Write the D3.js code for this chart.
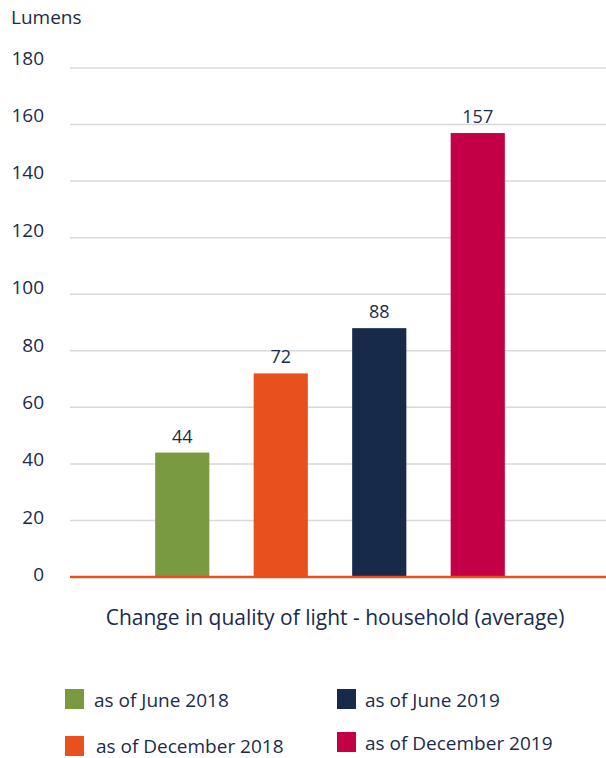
<!DOCTYPE html>
<html>
<head>
<meta charset="utf-8">
<script src="https://cdn.jsdelivr.net/npm/d3@7"></script>
<style>
  html, body { margin: 0; padding: 0; background: #ffffff; }
  svg { display: block; font-family: "Open Sans", "Noto Sans", sans-serif; }
</style>
</head>
<body>
<svg id="chart" width="606" height="758"></svg>
<script>
// Average household light output, in lumens, at each survey date
const categories = ["as of June 2018", "as of December 2018", "as of June 2019", "as of December 2019"];
const values = [44, 72, 88, 157];
const colors = ["#7a9a41", "#e8501e", "#172a4a", "#c30046"];
const yTicks = [0, 20, 40, 60, 80, 100, 120, 140, 160, 180];
const yTitle = "Lumens";
const xTitle = "Change in quality of light - household (average)";

const textColor = "#1b2b4b";
const svg = d3.select("#chart");

const plotLeft = 70, plotRight = 606, plotTop = 68, plotBottom = 577;

const y = d3.scaleLinear().domain([0, 180]).range([plotBottom, plotTop]);
const x = d3.scaleBand()
  .domain(categories)
  .range([133, 527])
  .paddingInner(0.45)
  .paddingOuter(0.225);

// Horizontal gridlines
svg.append("g")
  .selectAll("line")
  .data(yTicks.filter(d => d > 0))
  .join("line")
  .attr("x1", plotLeft).attr("x2", plotRight)
  .attr("y1", d => y(d)).attr("y2", d => y(d))
  .attr("stroke", "#d5d9dd")
  .attr("stroke-width", 1.5);

// Y tick labels
svg.append("g")
  .selectAll("text")
  .data(yTicks)
  .join("text")
  .attr("x", 44)
  .attr("y", d => y(d) - 2.5 - d * 0.042)
  .attr("dy", "0.35em")
  .attr("text-anchor", "end")
  .attr("font-size", 19)
  .attr("fill", textColor)
  .text(d => d);

// Axis unit
svg.append("text")
  .attr("x", 11).attr("y", 17)
  .attr("dy", "0.35em")
  .attr("font-size", 19)
  .attr("fill", textColor)
  .text(yTitle);

// Bars
svg.append("g")
  .selectAll("rect")
  .data(values)
  .join("rect")
  .attr("x", (d, i) => x(categories[i]))
  .attr("width", x.bandwidth())
  .attr("y", d => y(d))
  .attr("height", d => y(0) - y(d))
  .attr("fill", (d, i) => colors[i]);

// Value labels above bars
svg.append("g")
  .selectAll("text")
  .data(values)
  .join("text")
  .attr("x", (d, i) => x(categories[i]) + x.bandwidth() / 2)
  .attr("y", d => y(d) - 10)
  .attr("text-anchor", "middle")
  .attr("font-size", 18)
  .attr("fill", textColor)
  .text(d => d);

// Baseline
svg.append("line")
  .attr("x1", plotLeft).attr("x2", plotRight)
  .attr("y1", y(0)).attr("y2", y(0))
  .attr("stroke", "#e8501e")
  .attr("stroke-width", 2.5);

// X axis title
svg.append("text")
  .attr("x", 335).attr("y", 618)
  .attr("dy", "0.35em")
  .attr("text-anchor", "middle")
  .attr("font-size", 21)
  .attr("fill", textColor)
  .text(xTitle);

// Legend, two columns
const legendPos = [
  { sx: 65, sy: 689, tx: 94, ty: 700 },
  { sx: 65, sy: 736, tx: 96, ty: 746 },
  { sx: 337, sy: 689, tx: 365, ty: 700 },
  { sx: 337, sy: 732, tx: 365, ty: 743 }
];
const legend = svg.append("g")
  .selectAll("g")
  .data(categories)
  .join("g");
legend.append("rect")
  .attr("x", (d, i) => legendPos[i].sx)
  .attr("y", (d, i) => legendPos[i].sy)
  .attr("width", 19).attr("height", 20)
  .attr("fill", (d, i) => colors[i]);
legend.append("text")
  .attr("x", (d, i) => legendPos[i].tx)
  .attr("y", (d, i) => legendPos[i].ty)
  .attr("dy", "0.35em")
  .attr("font-size", 19)
  .attr("fill", textColor)
  .text(d => d);
</script>
</body>
</html>
